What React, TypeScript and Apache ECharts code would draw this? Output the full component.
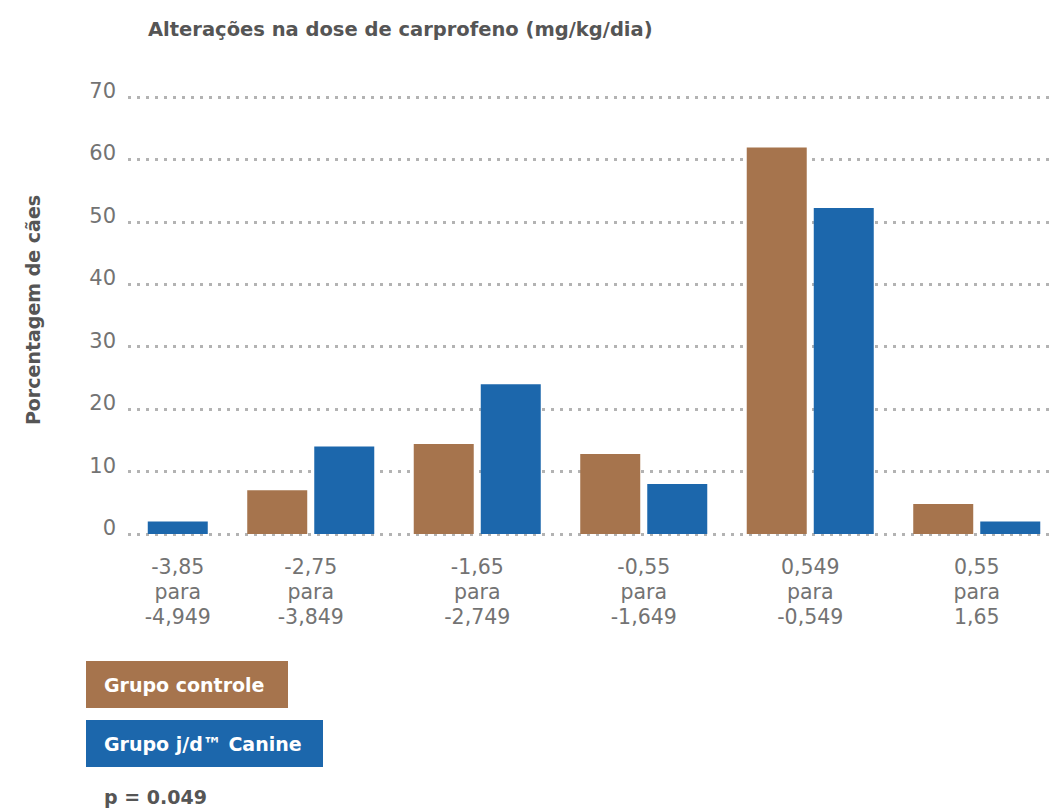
import React, { useEffect, useRef } from "react";
import * as echarts from "echarts";

const categories = [
  "-3,85\npara\n-4,949",
  "-2,75\npara\n-3,849",
  "-1,65\npara\n-2,749",
  "-0,55\npara\n-1,649",
  "0,549\npara\n-0,549",
  "0,55\npara\n1,65",
];
const seriesNames = ["Grupo controle", "Grupo j/d™ Canine"];
const controle = [0, 7, 14.4, 12.8, 61.9, 4.8];
const jd = [2, 14, 24, 8, 52.2, 2];
const yTicks = { min: 0, max: 70, interval: 10 };
const titleText = "Alterações na dose de carprofeno (mg/kg/dia)";
const yName = "Porcentagem de cães";
const pText = "p = 0.049";

const BROWN = "#A6744D";
const BLUE = "#1C67AC";
const FONT = "'DejaVu Sans', sans-serif";

export default function App() {
  const ref = useRef<HTMLDivElement>(null);
  useEffect(() => {
    if (!ref.current) return;
    const chart = echarts.init(ref.current, null, { renderer: "svg" });
    const labelStyle = { fontSize: 20.5, lineHeight: 25, color: "#737373", fontFamily: FONT, fontWeight: "normal" };
    const yLabelStyle = { fontSize: 21, color: "#737373", fontFamily: FONT, fontWeight: "normal" };
    chart.setOption({
      animation: false,
      backgroundColor: "#fff",
      title: {
        text: titleText,
        left: 143,
        top: 14,
        textStyle: { fontSize: 19.5, fontWeight: "bold", color: "#555", fontFamily: FONT },
      },
      grid: [
        { left: 61, width: 999, top: 97, height: 437 },
        { left: 128, width: 927, top: 97, height: 437 },
      ],
      xAxis: [
        {
          type: "category",
          gridIndex: 0,
          data: categories,
          axisLine: { show: false },
          axisTick: { show: false },
          axisLabel: {
            interval: 0,
            margin: 20,
            ...labelStyle,
            formatter: (v: string, i: number) =>
              v
                .split("\n")
                .map((s) => (i === 0 ? `{f|${s}}` : `{n|${s}}`))
                .join("\n"),
            rich: {
              f: { ...labelStyle, padding: [0, 0, 0, 67] },
              n: { ...labelStyle },
            },
          },
        },
        { type: "value", gridIndex: 1, min: 0, max: 1, show: false },
      ],
      yAxis: [
        { type: "value", gridIndex: 0, ...yTicks, show: false, splitLine: { show: false } },
        {
          type: "value",
          gridIndex: 1,
          ...yTicks,
          axisLine: { show: false },
          axisTick: { show: false },
          axisLabel: {
            margin: 12,
            verticalAlign: "middle",
            ...yLabelStyle,
            formatter: (v: number) => `{v|${v}}`,
            rich: { v: { ...yLabelStyle, padding: [0, 0, 12, 0] } },
          },
          splitLine: {
            show: true,
            lineStyle: { color: "#b3b3b3", width: 3, type: [3, 6] },
          },
        },
      ],
      series: [
        {
          name: seriesNames[0],
          type: "bar",
          xAxisIndex: 0,
          yAxisIndex: 0,
          data: controle,
          barWidth: 60,
          barGap: "11.7%",
          itemStyle: { color: BROWN },
        },
        {
          name: seriesNames[1],
          type: "bar",
          xAxisIndex: 0,
          yAxisIndex: 0,
          data: jd,
          barWidth: 60,
          barGap: "11.7%",
          itemStyle: { color: BLUE },
        },
      ],
      graphic: [
        {
          type: "text",
          x: 33,
          y: 310,
          rotation: Math.PI / 2,
          style: {
            text: yName,
            align: "center",
            verticalAlign: "middle",
            fontSize: 19,
            fontWeight: "bold",
            fill: "#555",
            fontFamily: FONT,
          },
        },
        { type: "rect", shape: { x: 86, y: 661, width: 202, height: 47 }, style: { fill: BROWN } },
        {
          type: "text",
          x: 104,
          y: 685,
          style: {
            text: seriesNames[0],
            verticalAlign: "middle",
            fontSize: 19,
            fontWeight: "bold",
            fill: "#fff",
            fontFamily: FONT,
          },
        },
        { type: "rect", shape: { x: 86, y: 720, width: 237, height: 47 }, style: { fill: BLUE } },
        {
          type: "text",
          x: 104,
          y: 744,
          style: {
            text: seriesNames[1],
            verticalAlign: "middle",
            fontSize: 19,
            fontWeight: "bold",
            fill: "#fff",
            fontFamily: FONT,
          },
        },
        {
          type: "text",
          x: 104,
          y: 797,
          style: {
            text: pText,
            verticalAlign: "middle",
            fontSize: 19,
            fontWeight: "bold",
            fill: "#555",
            fontFamily: FONT,
          },
        },
      ],
    });
    return () => chart.dispose();
  }, []);
  return (
    <div
      ref={ref}
      style={{ position: "fixed", left: 0, top: 0, width: 1100, height: 809 }}
    />
  );
}
